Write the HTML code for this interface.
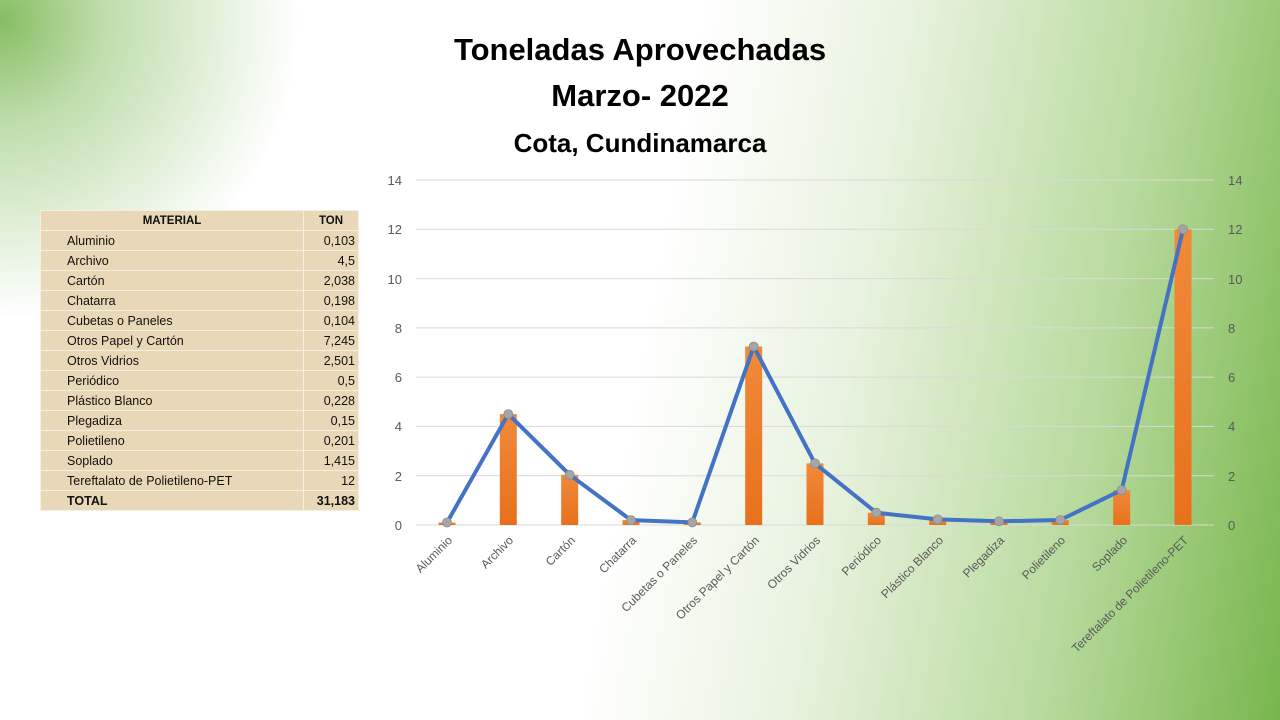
<!DOCTYPE html>
<html><head><meta charset="utf-8"><style>
html,body{margin:0;padding:0}
body{width:1280px;height:720px;overflow:hidden;position:relative;font-family:"Liberation Sans",sans-serif;
background:
radial-gradient(ellipse 300px 300px at 0px 20px,#86be62 0%,rgba(140,194,105,0.55) 35%,rgba(255,255,255,0) 100%),
linear-gradient(100deg,#ffffff 0%,#ffffff 50%,#e8f2de 65%,#b8da9d 83%,#78b64c 100%);}
.t{position:absolute;left:0;width:1280px;text-align:center;font-weight:bold;color:#000}
table{position:absolute;left:40px;top:210px;border-collapse:collapse;background:#e8d8b8;font-size:12.5px;color:#111}
td{height:19px;padding:0 3px;border:1px solid #f6efe0}
</style></head><body>
<div class="t" style="top:32px;font-size:31px;">Toneladas Aprovechadas</div>
<div class="t" style="top:78px;font-size:31px;">Marzo- 2022</div>
<div class="t" style="top:128px;font-size:26px;">Cota, Cundinamarca</div>
<table>
<tr><td style="width:256px;text-align:center;font-weight:bold;font-size:11.5px">MATERIAL</td><td style="width:48px;text-align:center;font-weight:bold;font-size:11.5px">TON</td></tr>
<tr><td style="padding-left:26px">Aluminio</td><td align="right">0,103</td></tr>
<tr><td style="padding-left:26px">Archivo</td><td align="right">4,5</td></tr>
<tr><td style="padding-left:26px">Cartón</td><td align="right">2,038</td></tr>
<tr><td style="padding-left:26px">Chatarra</td><td align="right">0,198</td></tr>
<tr><td style="padding-left:26px">Cubetas o Paneles</td><td align="right">0,104</td></tr>
<tr><td style="padding-left:26px">Otros Papel y Cartón</td><td align="right">7,245</td></tr>
<tr><td style="padding-left:26px">Otros Vidrios</td><td align="right">2,501</td></tr>
<tr><td style="padding-left:26px">Periódico</td><td align="right">0,5</td></tr>
<tr><td style="padding-left:26px">Plástico Blanco</td><td align="right">0,228</td></tr>
<tr><td style="padding-left:26px">Plegadiza</td><td align="right">0,15</td></tr>
<tr><td style="padding-left:26px">Polietileno</td><td align="right">0,201</td></tr>
<tr><td style="padding-left:26px">Soplado</td><td align="right">1,415</td></tr>
<tr><td style="padding-left:26px">Tereftalato de Polietileno-PET</td><td align="right">12</td></tr>
<tr><td style="padding-left:26px;font-weight:bold">TOTAL</td><td align="right" style="font-weight:bold">31,183</td></tr>
</table>
<svg width="1280" height="720" style="position:absolute;left:0;top:0" font-family="Liberation Sans, sans-serif">
<defs><linearGradient id="bg" x1="0" y1="0" x2="0" y2="1"><stop offset="0" stop-color="#f08a3a"/><stop offset="1" stop-color="#e8701c"/></linearGradient></defs>
<g stroke="#d9d9d9" stroke-width="1">
<line x1="416" x2="1214" y1="180" y2="180"/><line x1="416" x2="1214" y1="229.3" y2="229.3"/>
<line x1="416" x2="1214" y1="278.6" y2="278.6"/><line x1="416" x2="1214" y1="327.9" y2="327.9"/>
<line x1="416" x2="1214" y1="377.1" y2="377.1"/><line x1="416" x2="1214" y1="426.4" y2="426.4"/>
<line x1="416" x2="1214" y1="475.7" y2="475.7"/><line x1="416" x2="1214" y1="525" y2="525"/>
</g>
<g font-size="13" fill="#595959">
<g text-anchor="end"><text x="402" y="185">14</text><text x="402" y="234">12</text><text x="402" y="284">10</text><text x="402" y="333">8</text><text x="402" y="382">6</text><text x="402" y="431">4</text><text x="402" y="481">2</text><text x="402" y="530">0</text></g>
<g><text x="1228" y="185">14</text><text x="1228" y="234">12</text><text x="1228" y="284">10</text><text x="1228" y="333">8</text><text x="1228" y="382">6</text><text x="1228" y="431">4</text><text x="1228" y="481">2</text><text x="1228" y="530">0</text></g>
</g>
<g fill="url(#bg)">
<rect x="438.5" y="522.5" width="17" height="2.5"/><rect x="499.8" y="414.1" width="17" height="110.9"/>
<rect x="561.2" y="474.8" width="17" height="50.2"/><rect x="622.5" y="520.1" width="17" height="4.9"/>
<rect x="683.8" y="522.4" width="17" height="2.6"/><rect x="745.2" y="346.5" width="17" height="178.5"/>
<rect x="806.5" y="463.4" width="17" height="61.6"/><rect x="867.8" y="512.7" width="17" height="12.3"/>
<rect x="929.2" y="519.4" width="17" height="5.6"/><rect x="990.5" y="521.3" width="17" height="3.7"/>
<rect x="1051.8" y="520" width="17" height="5"/><rect x="1113.2" y="490.1" width="17" height="34.9"/>
<rect x="1174.5" y="229.3" width="17" height="295.7"/>
</g>
<polyline fill="none" stroke="#4472c4" stroke-width="4" stroke-linejoin="round" points="447,522.5 508.3,414.1 569.7,474.8 631,520.1 692.3,522.4 753.7,346.5 815,463.4 876.3,512.7 937.7,519.4 999,521.3 1060.3,520 1121.7,490.1 1183,229.3"/>
<g fill="#a5a5a5" stroke="#8c8c8c" stroke-width="0.8">
<circle cx="447" cy="522.5" r="4.5"/><circle cx="508.3" cy="414.1" r="4.5"/><circle cx="569.7" cy="474.8" r="4.5"/><circle cx="631" cy="520.1" r="4.5"/><circle cx="692.3" cy="522.4" r="4.5"/><circle cx="753.7" cy="346.5" r="4.5"/><circle cx="815" cy="463.4" r="4.5"/><circle cx="876.3" cy="512.7" r="4.5"/><circle cx="937.7" cy="519.4" r="4.5"/><circle cx="999" cy="521.3" r="4.5"/><circle cx="1060.3" cy="520" r="4.5"/><circle cx="1121.7" cy="490.1" r="4.5"/><circle cx="1183" cy="229.3" r="4.5"/>
</g>
<g font-size="12" fill="#595959" text-anchor="end">
<text transform="translate(453,541) rotate(-45)">Aluminio</text>
<text transform="translate(514,541) rotate(-45)">Archivo</text>
<text transform="translate(576,541) rotate(-45)">Cartón</text>
<text transform="translate(637,541) rotate(-45)">Chatarra</text>
<text transform="translate(698,541) rotate(-45)">Cubetas o Paneles</text>
<text transform="translate(760,541) rotate(-45)">Otros Papel y Cartón</text>
<text transform="translate(821,541) rotate(-45)">Otros Vidrios</text>
<text transform="translate(882,541) rotate(-45)">Periódico</text>
<text transform="translate(944,541) rotate(-45)">Plástico Blanco</text>
<text transform="translate(1005,541) rotate(-45)">Plegadiza</text>
<text transform="translate(1066,541) rotate(-45)">Polietileno</text>
<text transform="translate(1128,541) rotate(-45)">Soplado</text>
<text transform="translate(1189,541) rotate(-45)">Tereftalato de Polietileno-PET</text>
</g>
</svg>
</body></html>
